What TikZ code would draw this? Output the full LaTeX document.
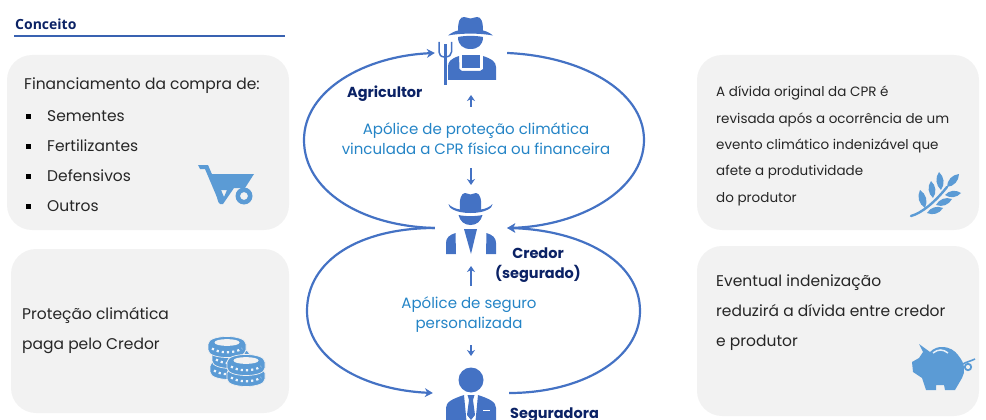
\documentclass[tikz,border=0pt]{standalone}
\usepackage{fontspec}
\setmainfont{Poppins}
\newfontfamily\titlefont{Open Sans}
\usetikzlibrary{arrows.meta}
\definecolor{cardgray}{HTML}{F2F2F2}
\definecolor{linkblue}{HTML}{4472C4}
\definecolor{iconblue}{HTML}{5B9BD5}
\definecolor{policyblue}{HTML}{2484C6}
\definecolor{navy}{HTML}{0B2265}
\definecolor{bodytext}{HTML}{262626}
\tikzset{
  card/.style = {fill = cardgray, rounded corners = 25pt},
  cardtext/.style = {anchor = west, align = left, inner sep = 0pt, text = bodytext},
  bigtext/.style = {cardtext, font = \fontsize{15.5}{30}\selectfont},
  smalltext/.style = {cardtext, font = \fontsize{13.5}{26.3}\selectfont},
  listtext/.style = {cardtext, font = \fontsize{15.5}{30}\selectfont},
  who/.style = {inner sep = 0pt, text = navy, font = \fontsize{14.5}{20}\selectfont\bfseries, align = center},
  policy/.style = {inner sep = 0pt, text = policyblue, font = \fontsize{15}{20}\selectfont, align = center},
  spot/.style = {inner sep = 0pt, minimum height = 1pt},
  link/.style = {draw = linkblue, line width = 2.2pt, -{Stealth[length = 8pt, width = 9pt]}},
  tick/.style = {draw = linkblue, line width = 2pt, -{Stealth[length = 6pt, width = 8pt]}}
}
\begin{document}
\begin{tikzpicture}[x = 1pt, y = -1pt]
  \useasboundingbox (0,0) rectangle (986,420);
  % cartoes
  \fill[card] (7,55) rectangle (289,230);
  \fill[card] (11,249) rectangle (289,413);
  \fill[card] (697,55) rectangle (979,230);
  \fill[card] (697,246) rectangle (979,416);
  \node[inner sep = 0pt, anchor = west, text = navy, font = \fontsize{14}{16}\selectfont\titlefont\bfseries] (conceito) at (15,24) {Conceito};
  \coordinate (ruleA) at (14,36);
  \coordinate (ruleB) at (285,36);
  \draw[color = linkblue!80!navy, line width = 1.3pt] (ruleA) -- (ruleB);
  \node[listtext] (financ) at (24,86) {Financiamento da compra de:};
  \foreach \name/\y/\word in {sem/116/Sementes, fer/146/Fertilizantes, def/176/Defensivos, out/206/Outros} {
    \fill[black] (26,\y-2.5) rectangle (31,\y+2.5);
    \node[listtext] (\name) at (47,\y) {\word};
  }
  \node[bigtext] (protecao) at (22,331) {Proteção climática\\paga pelo Credor};
  \node[smalltext] (divida) at (716,146) {A dívida original da CPR é\\revisada após a ocorrência de um\\evento climático indenizável que\\afete a produtividade\\do produtor};
  \node[bigtext] (eventual) at (716,313) {Eventual indenização\\reduzirá a dívida entre credor\\e produtor};
  % carrinho de mao
  \fill[iconblue] (198,165) -- (208,165) -- (224,202) -- (219,202) -- (205,169) -- (200,169) -- cycle;
  \fill[iconblue, even odd rule] (211,174) -- (254,174) -- (245,188) -- (234,188) -- (223,204) .. controls (221,205) and (219,204) .. (218,201) -- cycle (221,190) -- (227,190) -- (224,197) -- cycle;
  \fill[iconblue, even odd rule] (244,196) circle[radius = 8.5] (244,196) circle[radius = 4];
  % moedas
  \foreach \cx/\cy in {229/366, 231/355, 227/344, 246/373, 246/362} {
    \begin{scope}[shift = {(\cx,\cy)}]
      \fill[iconblue, draw = cardgray, line width = .7pt] (-19,0) .. controls (-19,-10) and (19,-10) .. (19,0) -- (19,6) .. controls (19,16) and (-19,16) .. (-19,6) -- cycle;
      \fill[cardgray] (-12.5,-1.5) .. controls (-12.5,-6) and (12.5,-6) .. (12.5,-1.5) .. controls (12.5,3) and (-12.5,3) .. (-12.5,-1.5) -- cycle;
      \draw[white!90!iconblue, line width = 2.2pt, dash pattern = on 2.2pt off 3pt] (-15,4.5) .. controls (-8,9.5) and (8,9.5) .. (15,4.5);
    \end{scope}
  }
  % trigo
  \draw[iconblue, line width = 2.4pt, line cap = round] (911,216) .. controls (922,213) and (935,202) .. (947,187);
  \foreach \bx/\by/\tx/\ty in {925/208/920/190, 933/198/931/181, 941/190/939/172, 947/187/959/174, 945/195/961/193, 936/205/952/199, 927/213/943/208} {
    \fill[iconblue] (\bx,\by) to[bend left = 42] (\tx,\ty) to[bend left = 42] (\bx,\by);
  }
  % porquinho
  \fill[iconblue] (919,344) -- (930,352) .. controls (934,348) and (938,347) .. (942,347) .. controls (950,347) and (955,351) .. (958,355) .. controls (962,360) and (964,364) .. (964,368) .. controls (964,372) and (964,375) .. (962,378) -- (955,390) -- (945,390) -- (944,385) -- (936,385) -- (936,390) -- (926,390) -- (922,378) -- (913,372) -- (912,362) -- (919,358) -- (923,352) -- cycle;
  \draw[white!85!iconblue, line width = 1.5pt] (933,353) .. controls (938,349) and (943,349) .. (948,353);
  \draw[iconblue, line width = 1.6pt] (963,364) .. controls (966,362) and (971,361) .. (975,359);
  \draw[iconblue, line width = 1.8pt] (968,367) circle[radius = 3.2];
  % agricultor
  \fill[linkblue] (448,35.5) .. controls (451,33) and (455,31) .. (458,30.5) .. controls (458,21) and (460,17) .. (464,17) .. controls (467,17) and (468,18.5) .. (470.5,18.5) .. controls (473,18.5) and (474,17) .. (477,17) .. controls (481,17) and (483,21) .. (483,30.5) .. controls (486,31) and (490,33) .. (493,35.5) .. controls (480,33) and (461,33) .. (448,35.5) -- cycle;
  \fill[linkblue] (458,37) .. controls (465,35.5) and (476,35.5) .. (483,37) .. controls (483,45) and (478,49) .. (470.5,49) .. controls (463,49) and (458,45) .. (458,37) -- cycle;
  \fill[linkblue] (448,80) -- (448,67) .. controls (448,62) and (450,59) .. (459,56) -- (459.5,69) -- (462,71) -- (480,71) -- (483,69) -- (483,56) .. controls (492,59) and (496,62) .. (496,67) -- (496,80) -- cycle;
  \fill[linkblue] (462,55) -- (480,55) -- (480,68.5) -- (462,68.5) -- cycle;
  \fill[linkblue] (444,44) rectangle (446.5,85);
  \draw[linkblue, line width = 1.5pt] (439,42) -- (439,52) .. controls (439,55) and (441,57) .. (445,57) .. controls (449,57) and (451.5,55) .. (451.5,52) -- (451.5,42);
  % credor
  \fill[linkblue] (448.5,204) .. controls (451,207) and (456,209) .. (460,209.5) .. controls (459,200) and (461,193) .. (465,193) .. controls (467,193) and (469,194.5) .. (470.5,194.5) .. controls (472,194.5) and (474,193) .. (476,193) .. controls (480,193) and (482,200) .. (481,209.5) .. controls (485,209) and (490,207) .. (492.5,204) .. controls (493,208) and (485,213) .. (470.5,213) .. controls (456,213) and (448,208) .. (448.5,204) -- cycle;
  \fill[linkblue] (458.5,215) .. controls (465,216.5) and (476,216.5) .. (482.5,215) .. controls (481,221) and (477,225) .. (470.5,225) .. controls (464,225) and (460,221) .. (458.5,215) -- cycle;
  \fill[linkblue] (446,254) -- (446,243) .. controls (446,238) and (449,235) .. (455.5,233) -- (456,254) -- cycle;
  \fill[linkblue] (496,254) -- (496,243) .. controls (496,238) and (493,235) .. (486.5,233) -- (486,254) -- cycle;
  \fill[linkblue] (464,229) -- (477,229) -- (471,254) -- cycle;
  % seguradora
  \fill[linkblue] (471,380) circle[radius = 12.5];
  \fill[linkblue] (446,421) -- (446,408) .. controls (446,402) and (452,399) .. (464,395) -- (466.5,421) -- cycle;
  \fill[linkblue] (496,421) -- (496,408) .. controls (496,402) and (490,399) .. (478,395) -- (475.5,421) -- cycle;
  \fill[linkblue] (467.5,395) -- (474.5,395) -- (473,400) -- (475,415) -- (471,420) -- (467,415) -- (469,400) -- cycle;
  \fill[white] (483,409.5) rectangle (490,411);
  % pontos de ligacao
  \node[spot, minimum width = 72pt] (agri) at (471,53) {};
  \node[spot, minimum width = 72pt] (cred) at (471,228) {};
  \node[spot, minimum width = 76pt] (segu) at (471,393) {};
  \coordinate (upL) at (304,140);
  \coordinate (upR) at (644,140);
  \coordinate (loL) at (307,311);
  \coordinate (loR) at (640,311);
  \draw[link] (cred.west) .. controls (360,226) and (304,190) .. (upL) .. controls (304,90) and (365,56) .. (agri.west);
  \draw[link] (agri.east) .. controls (580,56) and (644,90) .. (upR) .. controls (644,190) and (580,226) .. (cred.east);
  \draw[link] (cred.west) .. controls (360,228) and (307,260) .. (loL) .. controls (307,360) and (365,390) .. (segu.west);
  \draw[link] (segu.east) .. controls (580,393) and (640,360) .. (loR) .. controls (640,260) and (580,230) .. (cred.east);
  % apolices
  \node[policy] (apoAgri) at (476,139) {Apólice de proteção climática\\vinculada a CPR física ou financeira};
  \node[policy] (apoSegu) at (469,315) {Apólice de seguro\\personalizada};
  \coordinate (tickA) at (471,107);
  \coordinate (tickB) at (471,95);
  \coordinate (tickC) at (471,168);
  \coordinate (tickD) at (471,185);
  \coordinate (tickE) at (471,286);
  \coordinate (tickF) at (471,266);
  \coordinate (tickG) at (471,345);
  \coordinate (tickH) at (471,356);
  \draw[tick] (tickA) -- (tickB);
  \draw[tick] (tickC) -- (tickD);
  \draw[tick] (tickE) -- (tickF);
  \draw[tick] (tickG) -- (tickH);
  % nomes
  \node[who, anchor = west] (nomeAgri) at (347,94) {Agricultor};
  \node[who] (nomeCred) at (538,265) {Credor\\(segurado)};
  \node[who, anchor = west] (nomeSegu) at (510,415) {Seguradora};
\end{tikzpicture}
\end{document}
